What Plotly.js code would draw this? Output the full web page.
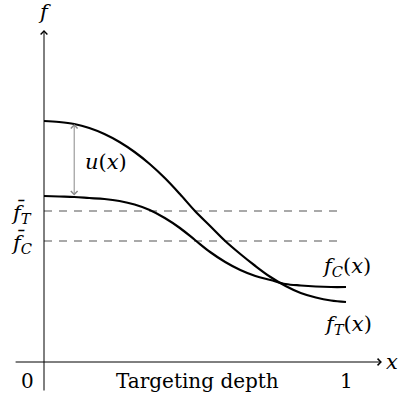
<!DOCTYPE html>
<html>
<head>
<meta charset="utf-8">
<script src="https://cdn.plot.ly/plotly-3.0.1.min.js"></script>
<style>
  html, body { margin: 0; padding: 0; background: #fff; }
  #chart { width: 398px; height: 398px; }
</style>
</head>
<body>
<div id="chart"></div>
<script>
// Targeting depth on [0, 1]
const depth = [0, 0.05, 0.10, 0.15, 0.20, 0.25, 0.30, 0.35, 0.40, 0.45, 0.50,
               0.55, 0.60, 0.65, 0.70, 0.75, 0.80, 0.85, 0.90, 0.95, 1.00];
// Outcome under treatment, f_T(x)
const fT = [2.41, 2.40, 2.38, 2.34, 2.28, 2.20, 2.10, 1.98, 1.84, 1.68, 1.51,
            1.36, 1.21, 1.08, 0.96, 0.85, 0.76, 0.69, 0.645, 0.615, 0.60];
// Outcome under control, f_C(x)
const fC = [1.66, 1.655, 1.65, 1.64, 1.63, 1.61, 1.575, 1.52, 1.44, 1.34, 1.22,
            1.10, 1.00, 0.92, 0.86, 0.82, 0.78, 0.765, 0.755, 0.75, 0.75];
// Average levels
const fBarT = 1.51;
const fBarC = 1.21;
// Where the uplift u(x) is marked
const upliftAt = 0.10;
const upliftIdx = depth.indexOf(upliftAt);
const dashEnd = 0.987;

const serif = 'DejaVu Serif, Liberation Serif, serif';
const mathFont = { family: serif, size: 21, color: '#000' };
const textFont = { family: serif, size: 20, color: '#000' };

const traces = [
  { x: [0, dashEnd], y: [fBarT, fBarT], mode: 'lines',
    line: { color: '#555', width: 1.1, dash: '8px,7px' }, hoverinfo: 'skip' },
  { x: [0, dashEnd], y: [fBarC, fBarC], mode: 'lines',
    line: { color: '#555', width: 1.1, dash: '8px,7px' }, hoverinfo: 'skip' },
  { x: depth, y: fT, mode: 'lines', name: 'f_T',
    line: { color: '#000', width: 2.2, shape: 'spline', smoothing: 1 } },
  { x: depth, y: fC, mode: 'lines', name: 'f_C',
    line: { color: '#000', width: 2.2, shape: 'spline', smoothing: 1 } }
];

function arrow(x, y, ax, ay, opts) {
  return Object.assign({
    x: x, y: y, ax: ax, ay: ay, xref: 'x', yref: 'y', axref: 'x', ayref: 'y',
    text: '', showarrow: true, arrowhead: 4, arrowsize: 1.3, arrowwidth: 1,
    arrowcolor: '#000', standoff: 0, startstandoff: 0
  }, opts || {});
}

function label(x, y, text, font, opts) {
  return Object.assign({
    x: x, y: y, xref: 'x', yref: 'y', text: text, showarrow: false,
    font: font, xanchor: 'center', yanchor: 'middle'
  }, opts || {});
}

const annotations = [
  // axes
  arrow(0, 3.32, 0, -0.30),
  arrow(1.119, 0, -0.099, 0),
  // uplift between the two curves
  arrow(upliftAt, fT[upliftIdx], upliftAt, fC[upliftIdx],
        { arrowcolor: '#888', arrowside: 'end+start', startarrowhead: 4,
          startarrowsize: 1.3 }),
  // axis labels and ticks
  label(0, 3.50, '<i>f</i>', mathFont),
  label(1.153, 0, '<i>x</i>', mathFont),
  label(-0.056, -0.19, '0', textFont),
  label(1, -0.19, '1', textFont),
  label(0.508, -0.19, 'Targeting depth', textFont),
  // curve and level labels
  label(0.205, 2.00, '<i>u</i>(<i>x</i>)', mathFont),
  label(-0.075, 1.49, '<i>f\u0304</i><sub><i>T</i></sub>', mathFont),
  label(-0.075, 1.19, '<i>f\u0304</i><sub><i>C</i></sub>', mathFont),
  label(1.003, 0.95, '<i>f</i><sub><i>C</i></sub>(<i>x</i>)', mathFont),
  label(1.006, 0.37, '<i>f</i><sub><i>T</i></sub>(<i>x</i>)', mathFont)
];

const hiddenAxis = { visible: false, showgrid: false, zeroline: false, fixedrange: true };

const layout = {
  width: 398, height: 398,
  margin: { l: 0, r: 0, t: 0, b: 0 },
  paper_bgcolor: '#fff', plot_bgcolor: '#fff',
  showlegend: false,
  xaxis: Object.assign({ range: [-44 / 302, 354 / 302] }, hiddenAxis),
  yaxis: Object.assign({ range: [-0.36, 3.62] }, hiddenAxis),
  annotations: annotations
};

Plotly.newPlot('chart', traces, layout, { staticPlot: true, displayModeBar: false });
</script>
</body>
</html>
